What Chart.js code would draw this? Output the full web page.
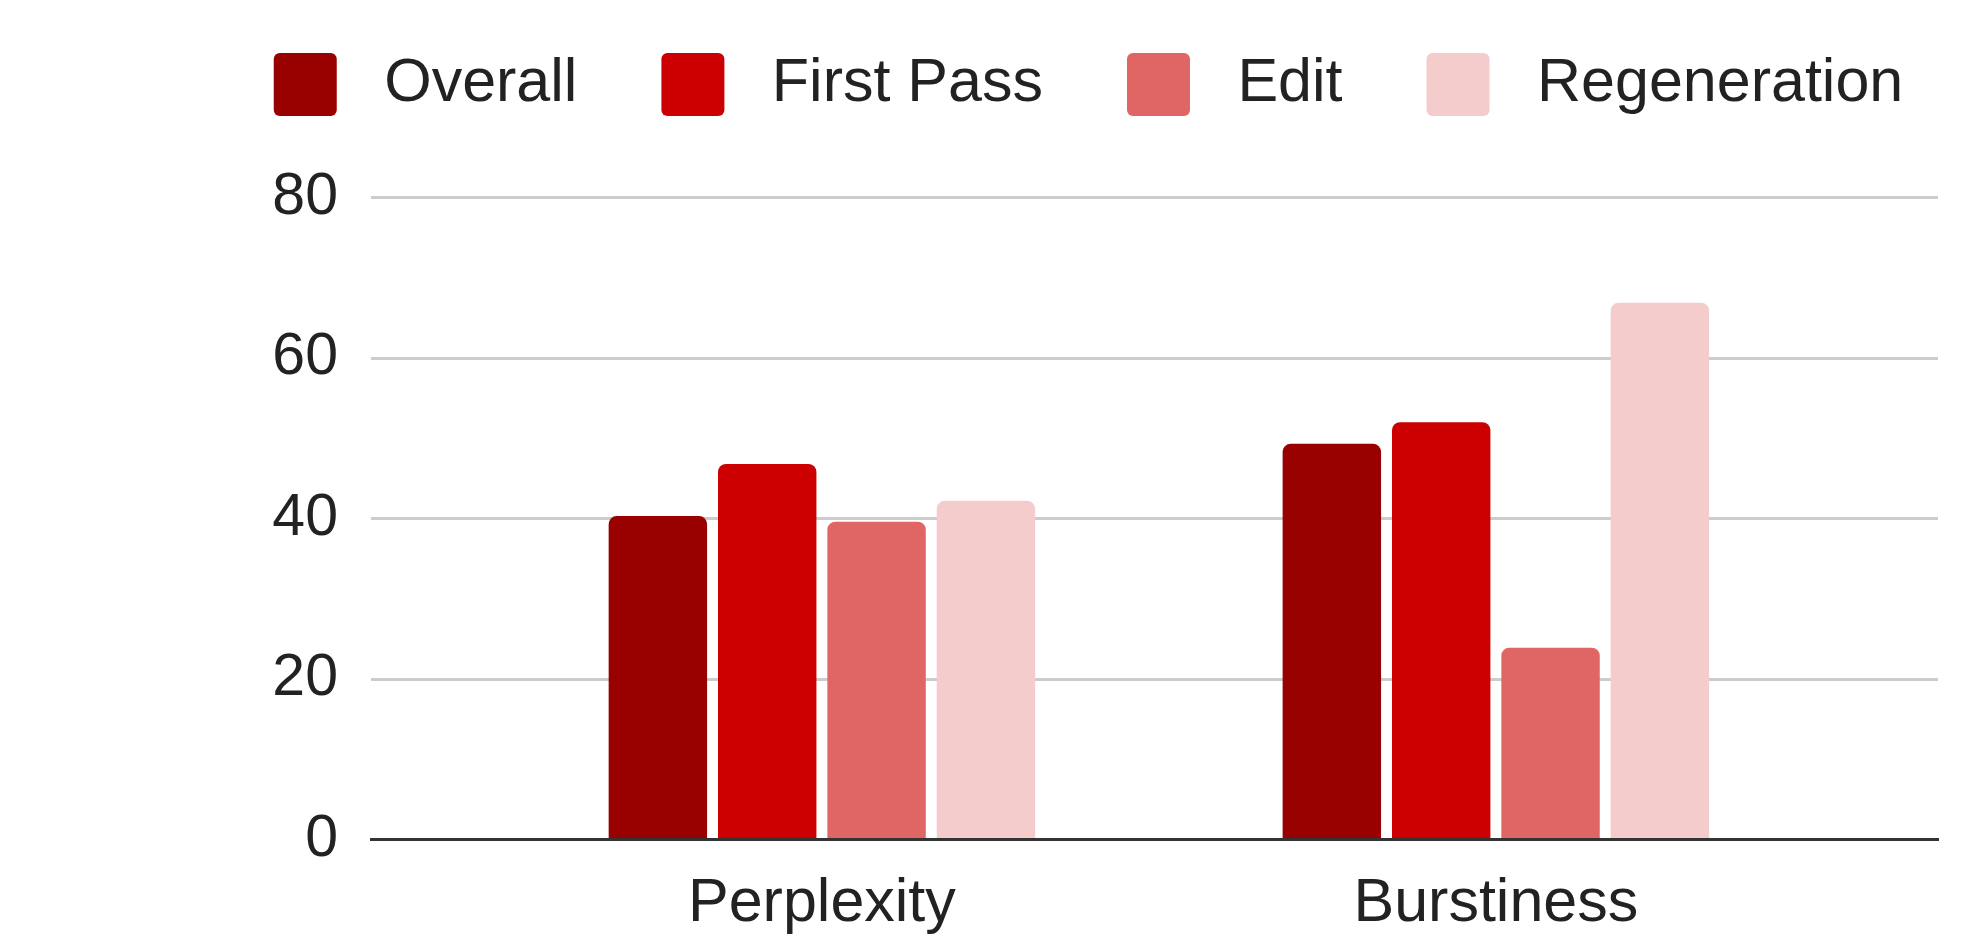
<!DOCTYPE html>
<html>
<head>
<meta charset="utf-8">
<title>Perplexity and Burstiness</title>
<script src="https://cdn.jsdelivr.net/npm/chart.js@4.4.1/dist/chart.umd.min.js"></script>
<style>
  html, body { margin: 0; padding: 0; background: #fff; }
  .chart-box { width: 1963px; height: 943px; position: relative; }
</style>
</head>
<body>
<div class="chart-box"><canvas id="scoreChart"></canvas></div>
<script>
/* DATA */
const categories = ["Perplexity", "Burstiness"];
const seriesNames = ["Overall", "First Pass", "Edit", "Regeneration"];
const overall = [40.3, 49.3];
const firstPass = [46.8, 52.0];
const edit = [39.6, 23.9];
const regeneration = [42.2, 66.9];
const yTicks = [0, 20, 40, 60, 80];

const seriesValues = [overall, firstPass, edit, regeneration];
const seriesColors = ["#990000", "#cc0000", "#e06666", "#f4cccc"];
const FONT = "'Liberation Sans', Arial, sans-serif";
const TEXT = "#222222";

/* extra room under the legend */
const legendGap = {
  id: "legendGap",
  beforeInit(chart){
    const fit = chart.legend.fit;
    chart.legend.fit = function(){
      fit.call(this);
      this.height += 71.5;
    };
  }
};

const datasets = seriesNames.map((name, s) => ({
  label: name,
  data: seriesValues[s].map((v, i) => ({ x: i, y: v })),
  backgroundColor: seriesColors[s],
  borderWidth: 0,
  borderRadius: 8,
  categoryPercentage: 0.649,
  barPercentage: 0.9
}));

new Chart(document.getElementById("scoreChart"), {
  type: "bar",
  data: { datasets: datasets },
  plugins: [legendGap],
  options: {
    responsive: true,
    maintainAspectRatio: false,
    animation: false,
    layout: { padding: { top: -31, left: 174, right: -40, bottom: 0 } },
    plugins: {
      tooltip: { enabled: false },
      legend: {
        position: "top",
        align: "center",
        labels: {
          font: { family: FONT, size: 61 },
          color: TEXT,
          boxWidth: 63,
          boxHeight: 63,
          padding: 84,
          useBorderRadius: true,
          borderRadius: 6,
          generateLabels(chart){
            return Chart.defaults.plugins.legend.labels.generateLabels(chart)
              .map(item => ({ ...item, text: " " + item.text, lineWidth: 0 }));
          }
        }
      }
    },
    scales: {
      x: {
        type: "linear",
        min: -0.669,
        max: 1.656,
        offset: false,
        grid: { display: false, drawTicks: false, offset: false },
        border: { display: true, color: "#333333", width: 3 },
        afterBuildTicks(scale){
          scale.ticks = categories.map((c, i) => ({ value: i }));
        },
        afterFit(scale){ scale.height = 103.5; },
        ticks: {
          autoSkip: false,
          maxRotation: 0,
          padding: 28,
          color: TEXT,
          font: { family: FONT, size: 61 },
          callback: v => categories[v] ?? ""
        }
      },
      y: {
        min: yTicks[0],
        max: yTicks[yTicks.length - 1],
        grid: { color: "#cccccc", lineWidth: 3, drawTicks: false },
        border: { display: false },
        afterBuildTicks(scale){
          scale.ticks = yTicks.map(v => ({ value: v }));
        },
        afterFit(scale){ scale.width = 197; },
        ticks: {
          padding: 33,
          color: TEXT,
          font: { family: FONT, size: 59 }
        }
      },
      yRight: {
        type: "linear",
        position: "right",
        display: true,
        grid: { display: false, drawTicks: false },
        border: { display: false },
        ticks: { display: false },
        afterFit(scale){ scale.width = 65; }
      }
    }
  }
});
</script>
</body>
</html>
